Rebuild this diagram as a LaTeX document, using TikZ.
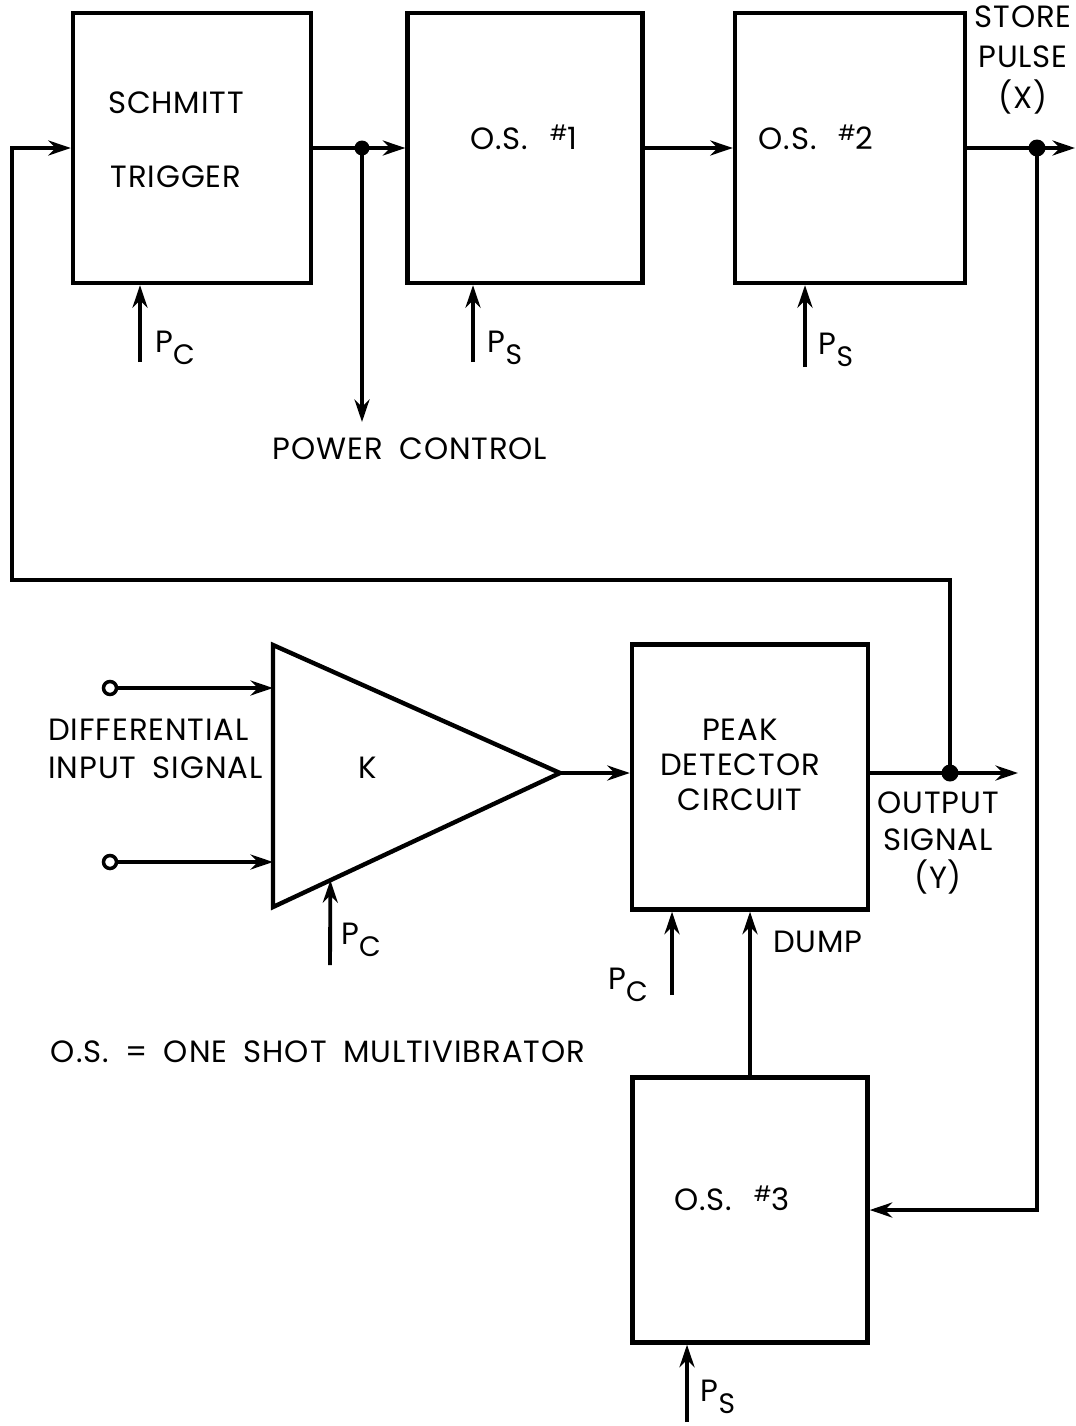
\documentclass[tikz,border=0pt]{standalone}
\usepackage{fontspec}
\setmainfont{Poppins}[LetterSpace=3,WordSpace=1.8]
\usetikzlibrary{arrows.meta,positioning,calc}
\newcommand{\pwrsub}[1]{P\raisebox{-.75ex}{\fontsize{16}{16}\selectfont #1}}
\newcommand{\osnum}[1]{O.S.\ \,\raisebox{.55ex}{\fontsize{12}{12}\selectfont\#}#1}
\tikzset{
  wire/.style={line width=2.2pt, draw=black},
  arr/.style={wire, -{Stealth[length=4.5mm,width=3mm]}},
  blockbox/.style={draw=black, line width=2.5pt, inner sep=0pt},
  lbl/.style={font=\fontsize{17.5}{20}\selectfont, inner sep=0pt, align=center},
  junction/.style={circle, fill=black, inner sep=0pt, minimum size=3.4mm},
  terminal/.style={circle, draw=black, line width=2pt, fill=white, inner sep=0pt, minimum size=2.6mm}
}
\begin{document}
\begin{tikzpicture}[x=0.02cm,y=-0.02cm]
  \useasboundingbox (0,0) rectangle (1075,1426);
  \node[blockbox, minimum width=4.76cm, minimum height=5.4cm] (schmitt) at (192,148) {};
  \node[blockbox, minimum width=4.7cm, minimum height=5.4cm] (os1) at (525,148) {};
  \node[blockbox, minimum width=4.6cm, minimum height=5.4cm] (os2) at (850,148) {};
  \node[blockbox, minimum width=4.72cm, minimum height=5.3cm] (peak) at (750,777) {};
  \node[blockbox, minimum width=4.7cm, minimum height=5.3cm] (os3) at (750,1210) {};
  \node[lbl] (schmitttxt) at (176,140) {SCHMITT\\[22pt]TRIGGER};
  \node[lbl] (os1txt) at (524,137) {\osnum{1}};
  \node[lbl] (os2txt) at (816,137) {\osnum{2}};
  \node[lbl] (peaktxt) at (740,765) {PEAK\\DETECTOR\\CIRCUIT};
  \node[lbl] (os3txt) at (732,1198) {\osnum{3}};
  \node[lbl] (storetxt) at (1023,60) {STORE\\[3pt]PULSE\\[3pt](X)};
  \node[lbl] (outtxt) at (938,843) {OUTPUT\\[1.5pt]SIGNAL\\[1.5pt](Y)};
  \node[lbl] (pwrtxt) at (410,449) {POWER CONTROL};
  \node[lbl] (dumptxt) at (818,942) {DUMP};
  \node[lbl, align=left, anchor=west] (difftxt) at (48,749) {DIFFERENTIAL\\[1.5pt]INPUT SIGNAL};
  \node[lbl] (notetxt) at (318,1052) {O.S. = ONE SHOT MULTIVIBRATOR};
  \node[lbl] (pc1txt) at (175,348) {\pwrsub{C}};
  \node[lbl] (ps1txt) at (505,348) {\pwrsub{S}};
  \node[lbl] (ps2txt) at (836,350) {\pwrsub{S}};
  \node[lbl] (pc2txt) at (361,940) {\pwrsub{C}};
  \node[lbl] (pc3txt) at (628,985) {\pwrsub{C}};
  \node[lbl] (ps3txt) at (718,1397) {\pwrsub{S}};
  \coordinate (ampnw) at (273,645);
  \coordinate (ampsw) at (273,907);
  \coordinate (amptip) at (560,773);
  \draw[wire, line width=2.5pt] (ampnw) -- (amptip) -- (ampsw) -- cycle;
  \node[lbl] (gain) at (368,768) {K};
  \node[terminal] (inA) at (110,688) {};
  \node[terminal] (inB) at (110,862) {};
  \coordinate (pjunc) at (362,148);
  \coordinate (xjunc) at (1037,148);
  \coordinate (yjunc) at (950,773);
  \coordinate (pwrend) at (362,422);
  \coordinate (xend) at (1075,148);
  \coordinate (yend) at (1018,773);
  \coordinate (fbturn) at (12,580);
  \coordinate (pc1) at (140,362);
  \coordinate (ps1) at (473,362);
  \coordinate (ps2) at (805,367);
  \coordinate (pc2) at (330,965);
  \coordinate (pc3) at (672,995);
  \coordinate (ps3) at (687,1422);
  \draw[wire] (schmitt.east) -- (pjunc);
  \draw[arr] (pjunc) -- (os1.west);
  \draw[arr] (pjunc) -- (pwrend);
  \draw[arr] (os1.east) -- (os2.west);
  \draw[wire] (os2.east) -- (xjunc);
  \draw[arr] (xjunc) -- (xend);
  \draw[arr] (xjunc) |- (os3.east);
  \draw[arr] (inA) -- (inA -| ampnw);
  \draw[arr] (inB) -- (inB -| ampnw);
  \draw[arr] (amptip) -- (amptip -| peak.west);
  \draw[wire] (yjunc -| peak.east) -- (yjunc);
  \draw[arr] (yjunc) -- (yend);
  \draw[arr] (yjunc) |- (fbturn) |- (schmitt.west);
  \draw[arr] (os3.north) -- (os3.north |- peak.south);
  \draw[arr] (pc1) -- (pc1 |- schmitt.south);
  \draw[arr] (ps1) -- (ps1 |- os1.south);
  \draw[arr] (ps2) -- (ps2 |- os2.south);
  \draw[arr] (pc2) -- ($(ampsw)!0.2!(amptip)$);
  \draw[arr] (pc3) -- (pc3 |- peak.south);
  \draw[arr] (ps3) -- (ps3 |- os3.south);
  \node[junction, minimum size=3mm] (pdot) at (pjunc) {};
  \node[junction] (xdot) at (xjunc) {};
  \node[junction] (ydot) at (yjunc) {};
\end{tikzpicture}
\end{document}
